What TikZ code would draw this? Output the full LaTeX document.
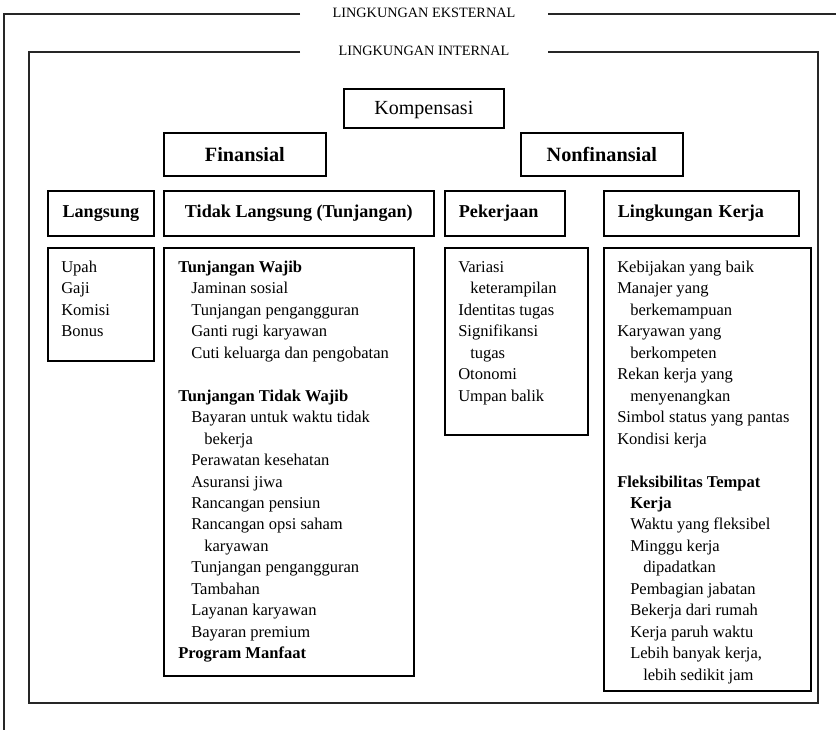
\documentclass[tikz,border=0pt]{standalone}
\usepackage{fontspec}
\setmainfont{Liberation Serif}
\newdimen\px \px=0.75pt
\newcommand\indx[1]{\hspace*{#1\px}}
\newcommand\bodyfont{\fontsize{12.4}{16.09}\selectfont}

\begin{document}
\begin{tikzpicture}[x=0.75pt,y=-0.75pt,
  frameline/.style={line width=0.95pt, black!85},
  framelabel/.style={inner sep=0pt, font=\fontsize{10.7}{12}\selectfont},
  boxnode/.style={draw, line width=1.3pt, rectangle, inner sep=0pt, anchor=north west},
  toplabel/.style={boxnode, font=\fontsize{15.2}{18}\selectfont\bfseries},
  rowlabel/.style={boxnode, font=\fontsize{13.6}{16}\selectfont\bfseries},
  leftlabel/.style={rowlabel, inner xsep=14\px, align=left},
  listbox/.style={boxnode},
  listtext/.style={anchor=base west, inner sep=0pt, font=\bodyfont}]
\useasboundingbox (0,0) rectangle (836,730);

% outer and inner environment frames with their titles
\node[framelabel] (ext) at (424,13) {LINGKUNGAN EKSTERNAL};
\node[framelabel] (int) at (424,51) {LINGKUNGAN INTERNAL};
\coordinate (extL) at (300,14);
\coordinate (extR) at (548,14);
\coordinate (intL) at (300,52);
\coordinate (intR) at (548,52);
\draw[frameline] (extL) -- (4,14) -- (4,731);
\draw[frameline] (extR) -- (837,14);
\draw[frameline] (intL) -- (29,52) -- (29,703) -- (818,703) -- (818,52) -- (intR);

% top levels
\node[boxnode, minimum width=160\px, minimum height=39\px, text depth=0pt,
      font=\fontsize{15}{18}\selectfont] (komp) at (343,88) {Kompensasi};
\node[toplabel, minimum width=162\px, minimum height=43\px] (fin) at (163,132) {Finansial};
\node[toplabel, minimum width=162\px, minimum height=43\px] (nonfin) at (520,132) {Nonfinansial};

% category headers
\node[rowlabel, minimum width=106\px, minimum height=45\px] (lang) at (47,190) {Langsung};
\node[rowlabel, minimum width=270\px, minimum height=45\px] (tlang) at (163,190) {Tidak Langsung (Tunjangan)};
\node[leftlabel, text width=92\px, minimum height=45\px] (pek) at (444,190) {Pekerjaan};
\node[leftlabel, text width=167\px, minimum height=45\px] (lingk) at (603,190) {Lingkungan Kerja};

% list boxes
\node[listbox, minimum width=106\px, minimum height=113\px] (langbox) at (47,247) {};
\node[listbox, minimum width=250\px, minimum height=428\px] (tlangbox) at (163,247) {};
\node[listbox, minimum width=143\px, minimum height=187\px] (pekbox) at (444,247) {};
\node[listbox, minimum width=207\px, minimum height=443\px] (lingkbox) at (603,247) {};

% list contents
\node[listtext] (langtxt) at (61,272.5) {\begin{tabular}[t]{@{}l@{}}
Upah\\ Gaji\\ Komisi\\ Bonus
\end{tabular}};

\node[listtext] (tlangtxt) at (178,272.5) {\begin{tabular}[t]{@{}l@{}}
\textbf{Tunjangan Wajib}\\
\indx{13}Jaminan sosial\\
\indx{13}Tunjangan pengangguran\\
\indx{13}Ganti rugi karyawan\\
\indx{13}Cuti keluarga dan pengobatan\\
\\
\textbf{Tunjangan Tidak Wajib}\\
\indx{13}Bayaran untuk waktu tidak\\
\indx{26}bekerja\\
\indx{13}Perawatan kesehatan\\
\indx{13}Asuransi jiwa\\
\indx{13}Rancangan pensiun\\
\indx{13}Rancangan opsi saham\\
\indx{26}karyawan\\
\indx{13}Tunjangan pengangguran\\
\indx{13}Tambahan\\
\indx{13}Layanan karyawan\\
\indx{13}Bayaran premium\\
\textbf{Program Manfaat}
\end{tabular}};

\node[listtext] (pektxt) at (458,272.5) {\begin{tabular}[t]{@{}l@{}}
Variasi\\
\indx{12}keterampilan\\
Identitas tugas\\
Signifikansi\\
\indx{12}tugas\\
Otonomi\\
Umpan balik
\end{tabular}};

\node[listtext] (lingktxt) at (617,272.5) {\begin{tabular}[t]{@{}l@{}}
Kebijakan yang baik\\
Manajer yang\\
\indx{13}berkemampuan\\
Karyawan yang\\
\indx{13}berkompeten\\
Rekan kerja yang\\
\indx{13}menyenangkan\\
Simbol status yang pantas\\
Kondisi kerja\\
\\
\textbf{Fleksibilitas Tempat}\\
\indx{13}\textbf{Kerja}\\
\indx{13}Waktu yang fleksibel\\
\indx{13}Minggu kerja\\
\indx{26}dipadatkan\\
\indx{13}Pembagian jabatan\\
\indx{13}Bekerja dari rumah\\
\indx{13}Kerja paruh waktu\\
\indx{13}Lebih banyak kerja,\\
\indx{26}lebih sedikit jam
\end{tabular}};
\end{tikzpicture}
\end{document}
